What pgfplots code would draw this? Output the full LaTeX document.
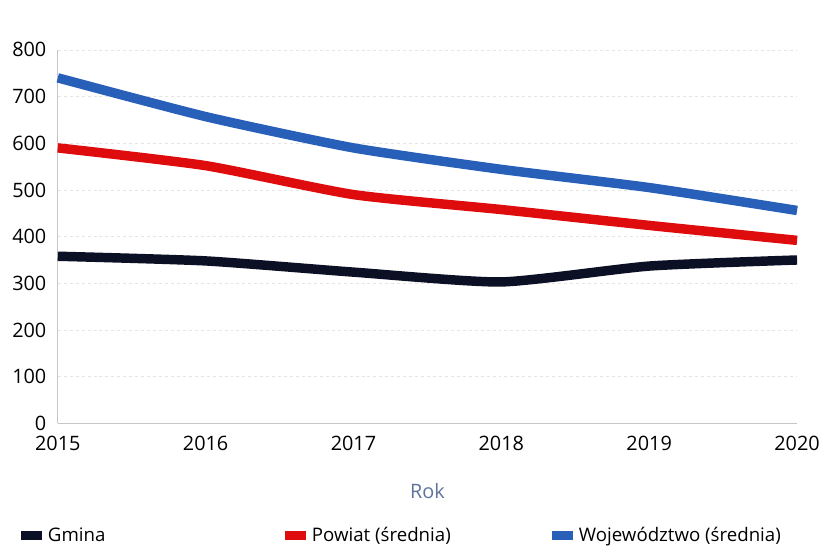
\documentclass[border=0pt]{standalone}
\usepackage{fontspec}
\setmainfont{Open Sans}
\usepackage{pgfplots}
\pgfplotsset{compat=1.18}
\definecolor{cblue}{RGB}{40,95,185}
\definecolor{cred}{RGB}{222,12,12}
\definecolor{cblack}{RGB}{12,16,36}
\definecolor{crok}{RGB}{95,115,155}
\begin{document}
\begin{tikzpicture}[x=1bp,y=1bp]
\begin{axis}[
  scale only axis,
  width=742bp, height=375bp,
  xmin=2015, xmax=2020, ymin=0, ymax=800,
  xtick={2015,...,2020}, ytick={0,100,...,800},
  xticklabel style={/pgf/number format/1000 sep={}},
  /pgf/number format/assume math mode=true,
  tick style={draw=none},
  tick label style={font=\fontsize{20}{23}\selectfont, text=black},
  yticklabel style={xshift=-8bp},
  xticklabel style={yshift=-9bp},
  axis x line*=bottom, axis y line*=left,
  axis line style={draw=gray!45, line width=0.6pt},
  ymajorgrids, grid style={draw=gray!20, dashed, line width=0.5pt},
  xlabel={Rok}, xlabel style={font=\fontsize{20}{23}\selectfont, text=crok, at={(axis description cs:0.5,-0.181)}, anchor=center},
  legend columns=3,
  legend style={at={(axis description cs:-0.054,-0.2987)}, anchor=west, draw=none, fill=none,
    font=\fontsize{18.8}{22}\selectfont,
    nodes={inner sep=1bp, anchor=west}},
  legend cell align=left,
  legend image code/.code={\fill[#1,draw=none] (0bp,-4.5bp) rectangle (21bp,4.5bp);},
  every axis plot/.append style={line width=9.5bp, line join=round, smooth, tension=0.35},
  clip=false,
]
\addplot[cblack] coordinates {(2015,358) (2016,348) (2017,324) (2018,303) (2019,337) (2020,350)};
\addlegendentry{\makebox[242bp][l]{\hspace{5bp}Gmina}}
\addplot[cred] coordinates {(2015,590) (2016,552) (2017,490) (2018,458) (2019,424) (2020,392)};
\addlegendentry{\makebox[245bp][l]{\hspace{5bp}Powiat (średnia)}}
\addplot[cblue] coordinates {(2015,740) (2016,657) (2017,590) (2018,544) (2019,505) (2020,456)};
\addlegendentry{\hspace{5bp}Województwo (średnia)}
\coordinate (tl) at (rel axis cs:0,1);
\coordinate (br) at (rel axis cs:1,0);
\end{axis}
\path (tl) ++(-58bp,50bp);
\path (br) ++(23bp,-123bp);
\end{tikzpicture}
\end{document}
